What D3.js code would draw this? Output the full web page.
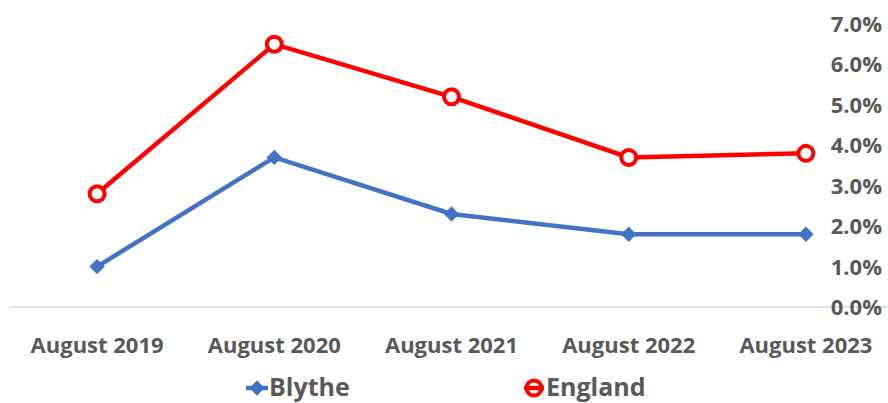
<!DOCTYPE html>
<meta charset="utf-8" />
<script src="https://d3js.org/d3.v7.min.js"></script>
<style>
  body { margin: 0; background: #fff; }
  text { font-family: "Open Sans", Arial, sans-serif; font-weight: bold; fill: #595959; }
</style>
<div id="my_dataviz"></div>
<script>
  // data
  var months = ["August 2019", "August 2020", "August 2021", "August 2022", "August 2023"];
  var blythe = [1.0, 3.7, 2.3, 1.8, 1.8];
  var england = [2.8, 6.5, 5.2, 3.7, 3.8];
  var yTicks = [0, 1, 2, 3, 4, 5, 6, 7];

  var width = 888, height = 403;

  var svg = d3.select("#my_dataviz")
    .append("svg")
    .attr("width", width)
    .attr("height", height);

  var x = d3.scaleBand().domain(months).range([8.5, 894.5]);
  var y = d3.scaleLinear().domain([0, 7]).range([307, 24]);
  var cx = function (d, i) { return x(months[i]) + x.bandwidth() / 2; };

  // baseline gridline
  svg.append("line")
    .attr("x1", 9).attr("x2", width)
    .attr("y1", y(0)).attr("y2", y(0))
    .attr("stroke", "#d9d9d9").attr("stroke-width", 1.5);

  // y tick labels on the right
  svg.append("g").selectAll("text")
    .data(yTicks).enter().append("text")
    .attr("x", 882)
    .attr("y", function (d) { return y(d) + 8; })
    .attr("text-anchor", "end")
    .style("font-size", "22px")
    .text(function (d) { return d.toFixed(1) + "%"; });

  // x labels
  svg.append("g").selectAll("text")
    .data(months).enter().append("text")
    .attr("x", function (d) { return x(d) + x.bandwidth() / 2; })
    .attr("y", 353)
    .attr("text-anchor", "middle")
    .style("font-size", "22px")
    .text(function (d) { return d; });

  var line = d3.line()
    .x(cx)
    .y(function (d) { return y(d); });

  // Blythe
  svg.append("path").datum(blythe)
    .attr("fill", "none").attr("stroke", "#4472C4").attr("stroke-width", 4.5)
    .attr("d", line);
  var diamond = d3.symbol().type(d3.symbolDiamond2).size(150);
  svg.append("g").selectAll("path")
    .data(blythe).enter().append("path")
    .attr("d", diamond)
    .attr("transform", function (d, i) { return "translate(" + cx(d, i) + "," + y(d) + ")"; })
    .attr("fill", "#4472C4");

  // England
  svg.append("path").datum(england)
    .attr("fill", "none").attr("stroke", "#FF0000").attr("stroke-width", 4.5)
    .attr("d", line);
  svg.append("g").selectAll("circle")
    .data(england).enter().append("circle")
    .attr("cx", cx)
    .attr("cy", function (d) { return y(d); })
    .attr("r", 7.5)
    .attr("fill", "#fff")
    .attr("stroke", "#FF0000").attr("stroke-width", 4);

  // legend
  var legend = svg.append("g");
  legend.append("line")
    .attr("x1", 246).attr("x2", 268).attr("y1", 388).attr("y2", 388)
    .attr("stroke", "#4472C4").attr("stroke-width", 4.5);
  legend.append("path")
    .attr("d", diamond)
    .attr("transform", "translate(257,388)")
    .attr("fill", "#4472C4");
  legend.append("text")
    .attr("x", 269).attr("y", 396)
    .style("font-size", "25px")
    .text("Blythe");

  legend.append("circle")
    .attr("cx", 534).attr("cy", 388).attr("r", 7.5)
    .attr("fill", "#fff").attr("stroke", "#FF0000").attr("stroke-width", 4);
  legend.append("line")
    .attr("x1", 524).attr("x2", 544).attr("y1", 388).attr("y2", 388)
    .attr("stroke", "#FF0000").attr("stroke-width", 4.5);
  legend.append("text")
    .attr("x", 546).attr("y", 396)
    .style("font-size", "25px")
    .text("England");
</script>
